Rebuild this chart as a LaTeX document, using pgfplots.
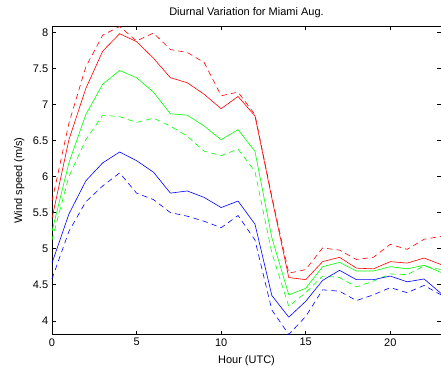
\documentclass[border=0pt]{standalone}
\usepackage{pgfplots}
\pgfplotsset{compat=1.18}
\usepackage{fontspec}
\setmainfont{Liberation Sans}
\begin{document}
\fontsize{11bp}{13bp}\selectfont
\begin{tikzpicture}
\begin{axis}[
  at={(0,0)}, anchor=south west,
  scale only axis, width=389bp, height=308bp,
  xmin=0, xmax=23, ymin=3.81, ymax=8.08,
  xtick={0,5,10,15,20},
  ytick={4,4.5,5,5.5,6,6.5,7,7.5,8},
  yticklabels={4,4.5,5,5.5,6,6.5,7,7.5,8},
  tick align=inside,
  major tick length=4bp,
  tick style={black, line width=0.5bp},
  axis line style={black, line width=0.6bp},
  /pgf/number format/assume math mode=true,
  ticklabel style={font=\fontsize{11bp}{13bp}\selectfont},
  label style={font=\fontsize{11bp}{13bp}\selectfont},
  title style={font=\fontsize{11bp}{13bp}\selectfont, yshift=-1bp},
  title={Diurnal Variation for Miami Aug.},
  xlabel={Hour (UTC)},
  ylabel={Wind speed (m/s)},
  xlabel style={yshift=-2bp},
  ylabel style={yshift=1bp},
  every axis plot/.append style={line width=0.6bp, line join=round},
  clip=false,
]
\addplot[red] coordinates {(0,5.42)(1,6.51)(2,7.22)(3,7.74)(4,7.98)(5,7.87)(6,7.64)(7,7.37)(8,7.30)(9,7.14)(10,6.94)(11,7.11)(12,6.84)(13,5.70)(14,4.60)(15,4.57)(16,4.82)(17,4.88)(18,4.73)(19,4.72)(20,4.82)(21,4.80)(22,4.87)(23,4.78)};
\addplot[red, dash pattern=on 5.5bp off 4bp] coordinates {(0,5.66)(1,6.74)(2,7.52)(3,7.96)(4,8.08)(5,7.88)(6,7.99)(7,7.76)(8,7.72)(9,7.58)(10,7.12)(11,7.17)(12,6.86)(13,5.72)(14,4.66)(15,4.71)(16,5.01)(17,4.98)(18,4.85)(19,4.88)(20,5.06)(21,4.99)(22,5.13)(23,5.17)};
\addplot[green] coordinates {(0,5.24)(1,6.19)(2,6.86)(3,7.28)(4,7.47)(5,7.37)(6,7.17)(7,6.87)(8,6.85)(9,6.70)(10,6.51)(11,6.65)(12,6.35)(13,5.15)(14,4.36)(15,4.45)(16,4.75)(17,4.81)(18,4.69)(19,4.69)(20,4.75)(21,4.72)(22,4.77)(23,4.67)};
\addplot[green, dash pattern=on 5.5bp off 4bp] coordinates {(0,5.12)(1,6.00)(2,6.51)(3,6.85)(4,6.83)(5,6.75)(6,6.81)(7,6.70)(8,6.56)(9,6.35)(10,6.29)(11,6.38)(12,6.07)(13,4.94)(14,4.20)(15,4.39)(16,4.62)(17,4.60)(18,4.47)(19,4.55)(20,4.65)(21,4.64)(22,4.76)(23,4.71)};
\addplot[blue] coordinates {(0,4.80)(1,5.48)(2,5.94)(3,6.19)(4,6.34)(5,6.22)(6,6.06)(7,5.77)(8,5.80)(9,5.71)(10,5.57)(11,5.66)(12,5.34)(13,4.35)(14,4.05)(15,4.27)(16,4.56)(17,4.70)(18,4.57)(19,4.57)(20,4.62)(21,4.54)(22,4.58)(23,4.38)};
\addplot[blue, dash pattern=on 5.5bp off 4bp] coordinates {(0,4.58)(1,5.24)(2,5.65)(3,5.87)(4,6.05)(5,5.77)(6,5.68)(7,5.50)(8,5.45)(9,5.38)(10,5.29)(11,5.46)(12,5.12)(13,4.15)(14,3.81)(15,4.06)(16,4.43)(17,4.41)(18,4.28)(19,4.36)(20,4.46)(21,4.39)(22,4.49)(23,4.36)};
\end{axis}
\pgfresetboundingbox
\path[use as bounding box] (-52bp,-38.5bp) rectangle (389bp,334.5bp);
\end{tikzpicture}
\end{document}
